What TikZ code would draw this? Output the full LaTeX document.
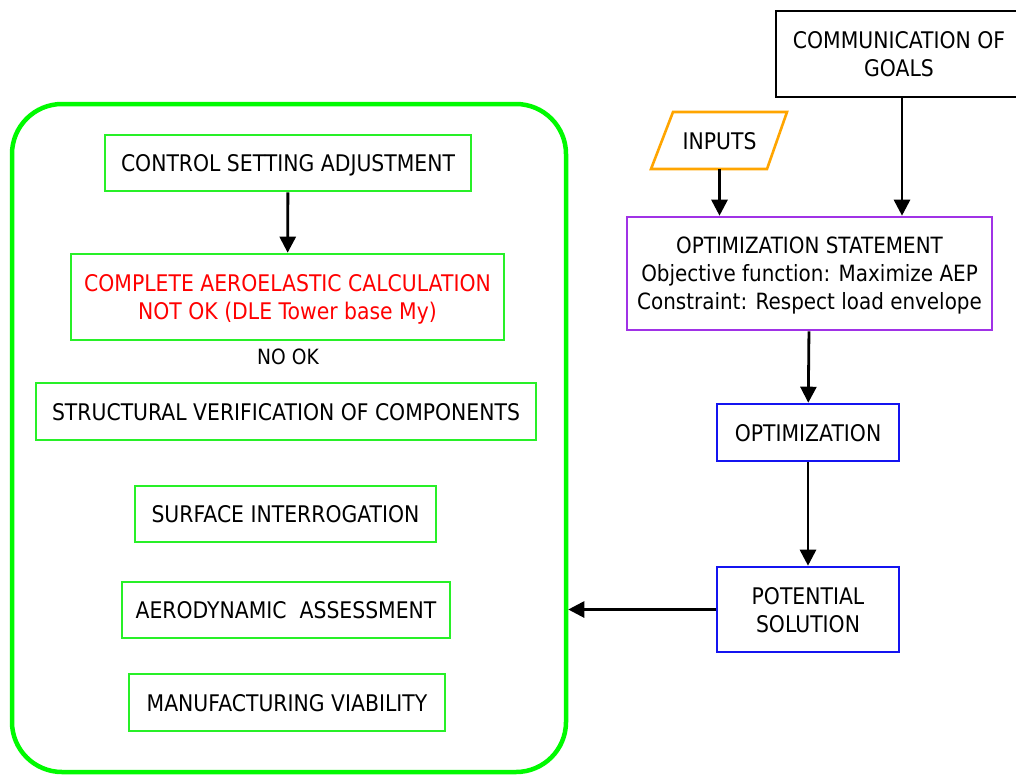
\documentclass[tikz,border=0pt]{standalone}
\usepackage{fontspec}
\setmainfont{DejaVu Sans}[FakeStretch=0.89]
\usetikzlibrary{arrows.meta}
\definecolor{grpgreen}{RGB}{0,250,0}
\definecolor{boxgreen}{RGB}{40,240,40}
\definecolor{stmtpurple}{RGB}{160,50,230}
\definecolor{optblue}{RGB}{20,20,240}
\definecolor{inorange}{RGB}{255,165,0}
\begin{document}
\begin{tikzpicture}[x=1pt,y=-1pt,
  font=\fontsize{22.9}{28}\selectfont,
  box/.style={draw, rectangle, line width=2.6pt, inner sep=0pt, align=center, text depth=0pt},
  gbox/.style={box, draw=boxgreen},
  bbox/.style={box, draw=optblue},
  arr/.style={-{Triangle[length=16pt,width=16pt]}, line width=2.8pt}]
\useasboundingbox (0,0) rectangle (1016,774);
\clip (0,0) rectangle (1016,774);
\fill[white] (0,0) rectangle (1016,774);

% evaluation group
\node[draw=grpgreen, line width=4.5pt, rounded corners=50pt,
      minimum width=554pt, minimum height=668pt] (group) at (289,438) {};
\node[gbox, minimum width=366pt, minimum height=56pt] (csa) at (288,163) {CONTROL SETTING ADJUSTMENT};
\node[gbox, minimum width=433pt, minimum height=86pt, text=red] (cac) at (287.5,297)
  {COMPLETE AEROELASTIC CALCULATION\\NOT OK (DLE Tower base My)};
\node[font=\fontsize{21}{24}\selectfont, text depth=0pt] (nook) at (288,357) {NO OK};
\node[gbox, minimum width=500pt, minimum height=57pt] (svc) at (286,411.5) {STRUCTURAL VERIFICATION OF COMPONENTS};
\node[gbox, minimum width=301pt, minimum height=56pt] (si) at (285.5,514) {SURFACE INTERROGATION};
\node[gbox, minimum width=328pt, minimum height=56pt] (aa) at (286,610) {AERODYNAMIC\ \ ASSESSMENT};
\node[gbox, minimum width=316pt, minimum height=57pt] (mv) at (287,702.5) {MANUFACTURING VIABILITY};

% optimisation chain
\node[box, minimum width=246pt, minimum height=86pt] (goals) at (899,54) {COMMUNICATION OF\\GOALS};
\node[inner sep=0pt, minimum width=100pt, minimum height=57pt, text depth=0pt] (inputs) at (719.5,140.5) {INPUTS};
\draw[inorange, line width=2.6pt, line join=miter]
  (inputs.center) ++(-46.5,-28.5) -- ++(114,0) -- ++(-20,57) -- ++(-116,0) -- cycle;
\node[box, draw=stmtpurple, minimum width=365pt, minimum height=113pt,
      font=\fontsize{22.4}{28}\selectfont] (stmt) at (809.5,273.5)
  {OPTIMIZATION STATEMENT\\Objective function: Maximize AEP\\Constraint: Respect load envelope};
\node[bbox, minimum width=182pt, minimum height=57pt] (opt) at (808,432.5) {OPTIMIZATION};
\node[bbox, minimum width=182pt, minimum height=85pt] (ps) at (808,609.5) {POTENTIAL\\SOLUTION};

% connectors
\draw[arr] (csa) -- (cac);
\draw[arr] (inputs.south) -- (inputs.south |- stmt.north);
\draw[arr] ([xshift=3pt]goals.south) -- ([xshift=3pt]goals.south |- stmt.north);
\draw[arr] (stmt) -- (opt);
\draw[arr] (opt) -- (ps);
\draw[arr] (ps.west) -- (group.east |- ps.west);
\end{tikzpicture}
\end{document}
